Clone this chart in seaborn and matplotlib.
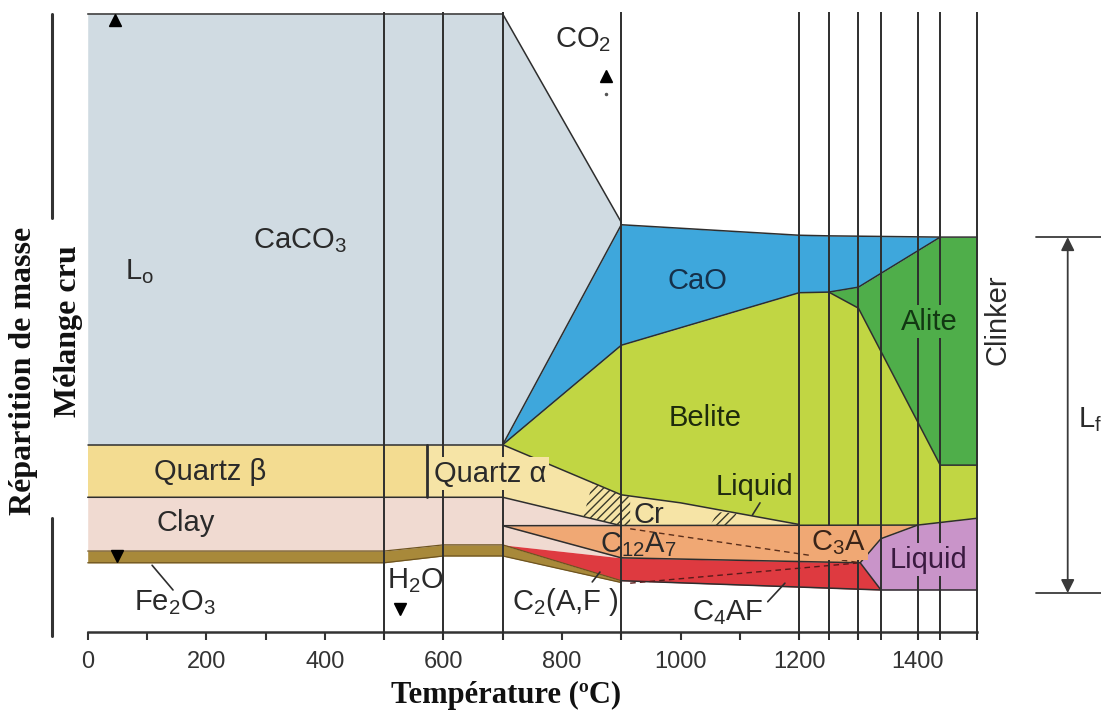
import matplotlib
matplotlib.use("Agg")
import matplotlib.pyplot as plt
import seaborn as sns

sns.set_theme(style="white")
plt.rcParams["font.family"] = ["Liberation Sans", "DejaVu Sans"]
plt.rcParams["mathtext.fontset"] = "custom"
plt.rcParams["mathtext.rm"] = "Liberation Sans"
plt.rcParams["mathtext.it"] = "Liberation Sans:italic"
plt.rcParams["hatch.linewidth"] = 1.0

# ---- phase domains: temperature (°C) and cumulative mass fraction (%) ----
T_CACO3 = [0, 700, 900]
CACO3_LOW = [30.3, 30.3, 65.9]
CACO3_HIGH = [100.0, 100.0, 66.3]

T_CAO = [700, 900, 1200, 1250, 1300, 1438]
CAO_LOW = [30.3, 46.4, 54.9, 55.0, 55.8, 63.9]
CAO_HIGH = [30.3, 65.9, 64.2, 64.1, 64.0, 63.9]

T_ALITE = [1250, 1300, 1438, 1500]
ALITE_LOW = [55.0, 52.4, 27.0, 27.0]
ALITE_HIGH = [55.0, 55.8, 63.9, 63.9]

T_BELITE = [700, 900, 1000, 1200, 1250, 1300, 1400, 1438, 1500]
BELITE_LOW = [30.3, 22.2, 20.9, 17.4, 17.3, 17.3, 17.3, 17.7, 18.4]
BELITE_HIGH = [30.3, 46.4, 49.2, 54.9, 55.0, 52.4, 34.0, 27.0, 27.0]

T_QUARTZ_B = [0, 573]
QUARTZ_B_LOW = [21.8, 21.8]
QUARTZ_B_HIGH = [30.3, 30.3]

T_QUARTZ_A = [573, 700, 900, 1000, 1200]
QUARTZ_A_LOW = [21.8, 21.8, 17.2, 17.2, 17.2]
QUARTZ_A_HIGH = [30.3, 30.3, 22.2, 20.9, 17.4]

T_CLAY = [0, 500, 600, 700, 900]
CLAY_LOW = [13.1, 13.1, 14.1, 14.1, 12.0]
CLAY_HIGH = [21.8, 21.8, 21.8, 21.8, 17.2]

T_ALUMINATE = [700, 900, 1303, 1338, 1400]
ALUMINATE_LOW = [17.2, 12.0, 11.2, 15.1, 17.3]
ALUMINATE_HIGH = [17.2, 17.2, 17.3, 17.3, 17.3]

T_FERRITE = [700, 900, 1303, 1338]
FERRITE_LOW = [14.1, 8.3, 6.9, 6.8]
FERRITE_HIGH = [14.1, 12.0, 11.2, 6.8]

T_FE2O3 = [0, 500, 600, 700, 900]
FE2O3_LOW = [11.2, 11.2, 12.3, 12.3, 8.0]
FE2O3_HIGH = [13.1, 13.1, 14.1, 14.1, 8.3]

T_MELT = [1303, 1338, 1400, 1500]
MELT_LOW = [11.2, 6.8, 6.8, 6.8]
MELT_HIGH = [11.2, 15.1, 17.3, 18.4]

# reaction stages (vertical guides) and the quartz inversion
STAGES = [500, 600, 700, 900, 1200, 1250, 1300, 1338, 1400, 1438, 1500]
QUARTZ_INVERSION = 573

# dashed traces inside the aluminate / ferrite domains
DASH_T = [915, 1303]
DASH_ALUMINATE = [16.7, 11.2]
DASH_FERRITE = [7.9, 11.2]

# clinker share bracket
LF_TOP, LF_BOTTOM = 63.9, 6.3

TICK_MAJOR = [0, 200, 400, 600, 800, 1000, 1200, 1400]
TICK_MINOR = [100, 300, 500, 700, 900, 1100, 1300, 1500]

COL = {
    "caco3": "#d0dbe2", "cao": "#3ea7dc", "alite": "#4fae4a", "belite": "#c1d643",
    "quartz_b": "#f3dc91", "quartz_a": "#f6e4a6", "clay": "#f0dad1",
    "aluminate": "#f0a874", "ferrite": "#de3a40", "fe2o3": "#a8893a",
    "melt": "#c994c9",
}
LINE = "#2e2e2e"
TXT = "#2a2a2a"

fig = plt.figure(figsize=(11.01, 7.2), dpi=100)
ax = fig.add_axes([87.7 / 1101, 88 / 720, 889.3 / 1101, 618 / 720])
ax.set_xlim(0, 1500)
ax.set_ylim(0, 100)
ax.set_facecolor("none")
fig.patch.set_facecolor("white")


def band(t, lo, hi, key, **kw):
    ax.fill_between(t, lo, hi, color=COL[key], lw=0, zorder=1, clip_on=False, **kw)


band(T_CACO3, CACO3_LOW, CACO3_HIGH, "caco3")
band(T_CAO, CAO_LOW, CAO_HIGH, "cao")
band(T_ALITE, ALITE_LOW, ALITE_HIGH, "alite")
band(T_BELITE, BELITE_LOW, BELITE_HIGH, "belite")
band(T_QUARTZ_B, QUARTZ_B_LOW, QUARTZ_B_HIGH, "quartz_b")
band(T_QUARTZ_A, QUARTZ_A_LOW, QUARTZ_A_HIGH, "quartz_a")
band(T_CLAY, CLAY_LOW, CLAY_HIGH, "clay")
band(T_ALUMINATE, ALUMINATE_LOW, ALUMINATE_HIGH, "aluminate")
band(T_FERRITE, FERRITE_LOW, FERRITE_HIGH, "ferrite")
band(T_FE2O3, FE2O3_LOW, FE2O3_HIGH, "fe2o3")
band(T_MELT, MELT_LOW, MELT_HIGH, "melt")


def edge(xs, ys, color=LINE, lw=1.1):
    sns.lineplot(x=xs, y=ys, sort=False, estimator=None, ax=ax, color=color,
                 lw=lw, legend=False, zorder=2, clip_on=False)


# phase boundaries
edge([0, 700, 900], [100, 100, 66.3])
edge([0, 700], [30.3, 30.3])
edge([0, 700, 900], [21.8, 21.8, 17.2])
edge(T_CAO[:4] + [1438, 1500], CAO_HIGH[:4] + [63.9, 63.9])
edge(T_CAO, CAO_LOW)
edge(T_ALITE, ALITE_LOW)
edge([700, 900, 1000, 1200], [30.3, 22.2, 20.9, 17.4])
edge([700, 1400, 1500], [17.2, 17.3, 18.4])
edge(T_ALUMINATE, ALUMINATE_LOW)
edge([1303, 1338], [11.2, 6.8])
edge([900, 1338, 1500], [8.3, 6.8, 6.8])
edge(T_FE2O3, FE2O3_HIGH, color="#6e5420", lw=0.9)
edge(T_FE2O3, FE2O3_LOW, color="#6e5420", lw=0.9)
edge([QUARTZ_INVERSION, QUARTZ_INVERSION], [21.8, 30.3], lw=2.0)

ax.plot(DASH_T, DASH_ALUMINATE, color="#5a2e1a", lw=1.0, ls=(0, (4, 3)), zorder=2)
ax.plot(DASH_T, DASH_FERRITE, color="#5a1a1a", lw=1.0, ls=(0, (4, 3)), zorder=2)

# hatched solid-state reaction zones
ax.fill([852, 900, 915, 915, 900, 836], [24.2, 22.2, 21.9, 17.2, 17.2, 18.7],
        facecolor="none", edgecolor="#3a3a2a", hatch="////", lw=0, zorder=2)
ax.fill([1050, 1062, 1095, 1083], [17.2, 19.4, 19.2, 17.2],
        facecolor="none", edgecolor="#3a3a2a", hatch="////", lw=0, zorder=2)

# stage guides
ax.vlines(STAGES, -1.3, 100.3, color=LINE, lw=1.4, zorder=3, clip_on=False)

# axis
for s in ["left", "right", "top"]:
    ax.spines[s].set_visible(False)
ax.spines["bottom"].set_color("#333333")
ax.spines["bottom"].set_linewidth(1.8)
ax.set_xticks(TICK_MAJOR)
ax.set_xticks(TICK_MINOR, minor=True)
ax.set_yticks([])
ax.tick_params(axis="x", which="both", direction="out", length=6, width=1.5,
               color="#333333", bottom=True)
ax.tick_params(axis="x", which="major", labelsize=17, labelcolor="#333333", pad=8)
ax.grid(False)

# region labels
def label(x, y, s, size=21, color=TXT, box=None, **kw):
    bb = None
    if box:
        bb = dict(boxstyle="square,pad=0.08", fc=COL[box], ec="none")
    ax.text(x, y, s, fontsize=size, color=color, ha="center", va="center",
            zorder=4, bbox=bb, clip_on=False, **kw)


label(358, 63.3, r"CaCO$_3$")
label(88, 58.3, r"L$_\mathrm{o}$")
label(206, 25.9, "Quartz β")
label(679, 25.6, "Quartz α", box="quartz_a")
label(166, 17.6, "Clay")
label(147, 4.7, r"Fe$_2$O$_3$")
label(552, 8.3, r"H$_2$O", box=None)
label(805, 4.9, r"C$_2$(A,F )")
label(947, 18.9, "Cr")
label(928, 14.1, r"C$_{12}$A$_7$")
label(1125, 23.5, "Liquid", color="#1f2a10")
label(1266, 14.4, r"C$_3$A", color="#3a2418", box="aluminate")
label(1419, 11.7, "Liquid", color="#3a1a40", box="melt")
label(1080, 3.2, r"C$_4$AF")
label(1041, 34.6, "Belite", color="#1d2a0c")
label(1028, 56.8, "CaO", color="#15304a")
label(1419, 50.2, "Alite", color="#123812", box="alite")
label(835, 95.8, r"CO$_2$")
label(1535, 50.5, "Clinker", rotation=90)

# leader lines
for xs, ys in [([108.6, 143.9], [10.8, 6.8]), ([851, 864], [8.1, 9.7]),
               ([1147, 1176], [4.9, 7.9]), ([1121, 1134], [18.9, 20.9])]:
    ax.plot(xs, ys, color=LINE, lw=1.2, zorder=4)

# flow markers
ax.plot([46], [99.0], marker="^", ms=9, color="black", zorder=5, clip_on=False)
ax.plot([49], [12.3], marker="v", ms=9, color="black", zorder=5, clip_on=False)
ax.plot([527], [3.7], marker="v", ms=9, color="black", zorder=5, clip_on=False)
ax.plot([875], [90.0], marker="^", ms=9, color="black", zorder=5, clip_on=False)
ax.plot([875], [87.1], marker="o", ms=1.5, color="#555555", zorder=5, clip_on=False)

# clinker bracket
for y in (LF_TOP, LF_BOTTOM):
    ax.plot([1600, 1710], [y, y], color="#3a3a3a", lw=1.3, clip_on=False)
ax.annotate("", xy=(1653, LF_TOP), xytext=(1653, LF_BOTTOM),
            arrowprops=dict(arrowstyle="<|-|>", color="#3a3a3a", lw=1.3,
                            mutation_scale=20, shrinkA=0, shrinkB=0),
            annotation_clip=False)
ax.text(1670, 34.3, r"L$_\mathrm{f}$", fontsize=21, color=TXT, ha="left",
        va="center", clip_on=False)

# left frame with gap for the axis titles
ax.plot([-60.2, -60.2], [100, 67.0], color="#333333", lw=2.2, clip_on=False)
ax.plot([-60.2, -60.2], [18.4, -0.6], color="#333333", lw=2.2, clip_on=False)

serif = ["Liberation Serif", "DejaVu Serif"]
ax.text(-109, 42.2, "Répartition de masse", rotation=90, fontsize=23,
        fontweight="bold", family=serif, color="#111111", ha="center",
        va="center", clip_on=False)
ax.text(-33, 48.7, "Mélange cru", rotation=90, fontsize=23,
        fontweight="bold", family=serif, color="#111111", ha="center",
        va="center", clip_on=False)
fig.text(506 / 1101, 1 - 695 / 720, "Température (ºC)", fontsize=22,
         fontweight="bold", family=serif, color="#111111", ha="center",
         va="center")

fig.savefig("out.png", dpi=100, facecolor="white")
